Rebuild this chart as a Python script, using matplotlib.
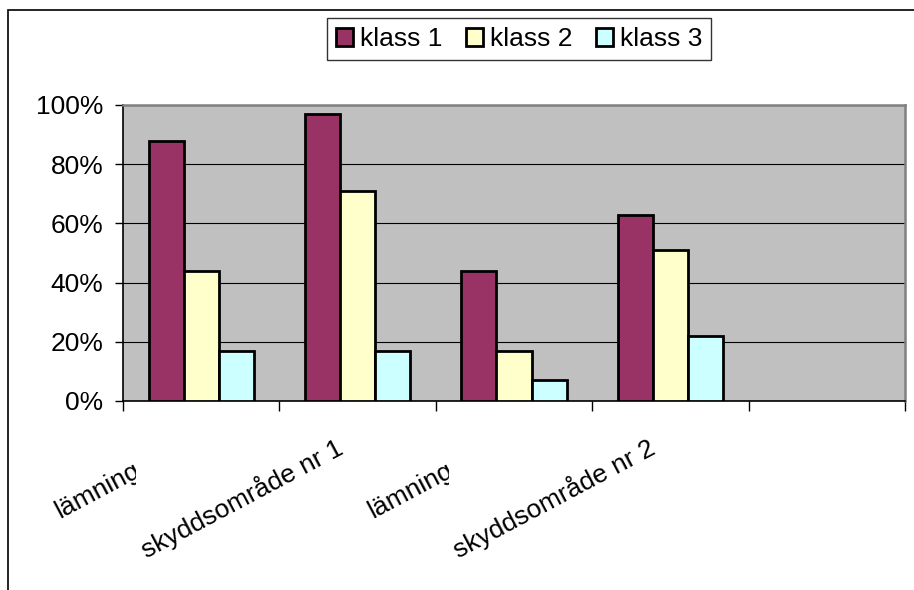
import matplotlib
matplotlib.use('Agg')
import matplotlib.pyplot as plt
from matplotlib.patches import Rectangle
from matplotlib.transforms import blended_transform_factory, ScaledTranslation

plt.rcParams['font.family'] = ['Liberation Sans', 'DejaVu Sans']

# data
categories = ['lämning', 'skyddsområde nr 1', 'lämning', 'skyddsområde nr 2', '']
label_clipped = [True, False, True, False, False]
klass1 = [88, 97, 44, 63]
klass2 = [44, 71, 17, 51]
klass3 = [17, 17, 7, 22]
series_names = ['klass 1', 'klass 2', 'klass 3']
colors = ['#993366', '#FFFFCC', '#CCFFFF']
y_ticks = [0, 20, 40, 60, 80, 100]
y_labels = ['0%', '20%', '40%', '60%', '80%', '100%']

FS = 19

fig = plt.figure(figsize=(9.14, 5.90), dpi=100)
ax = fig.add_axes([123 / 914, 189 / 590, 782 / 914, 296 / 590])
ax.set_facecolor('#C0C0C0')

w = 0.224
for k, (vals, name, c) in enumerate(zip([klass1, klass2, klass3], series_names, colors)):
    xs = [i + (k - 1) * w for i in range(len(vals))]
    ax.bar(xs, vals, width=w, color=c, edgecolor='black', linewidth=2,
           label=name, zorder=3)

ax.set_xlim(-0.5, len(categories) - 0.5)
ax.set_ylim(0, 100)
ax.set_yticks(y_ticks, y_labels)
ax.yaxis.grid(True, color='black', linewidth=0.8, zorder=1)
ax.set_xticks([i - 0.5 for i in range(len(categories) + 1)], [])
ax.tick_params(axis='y', length=6, width=1, pad=8, labelsize=FS)
ax.tick_params(axis='x', length=7, width=1)
for s in ['top', 'right']:
    ax.spines[s].set_color('#808080')
    ax.spines[s].set_linewidth(1.8)
for s in ['left', 'bottom']:
    ax.spines[s].set_color('black')
    ax.spines[s].set_linewidth(1.2)

# category labels, rotated like the Excel original (some cut off)
xt = blended_transform_factory(ax.transData, ax.transAxes)
for i, (lab, clipped) in enumerate(zip(categories, label_clipped)):
    if not lab:
        continue
    if clipped:
        off = ScaledTranslation(-141 / 100, -118 / 100, fig.dpi_scale_trans)
        t = ax.text(i, 0, lab, transform=xt + off, rotation=28, rotation_mode='anchor',
                    ha='left', va='baseline', fontsize=FS, clip_on=True)
        t.set_clip_path(Rectangle((-1, -1), i - 0.415 + 1, 1, transform=xt))
    else:
        off = ScaledTranslation(-13 / 100, -52 / 100, fig.dpi_scale_trans)
        ax.text(i, 0, lab, transform=xt + off, rotation=28, rotation_mode='anchor',
                ha='right', va='baseline', fontsize=FS)

leg = fig.legend(loc='center', bbox_to_anchor=(519 / 914, 1 - 39 / 590), ncol=3,
                 fontsize=FS, frameon=True, fancybox=False, edgecolor='black',
                 handlelength=0.65, handleheight=0.65, handletextpad=0.25,
                 columnspacing=0.9, borderpad=0.35, borderaxespad=0)
leg.get_frame().set_linewidth(1)

# chart area border (cut off at right and bottom)
fig.add_artist(Rectangle((8 / 914, -0.2), 1.5, 1 - 10 / 590 + 0.2,
                         transform=fig.transFigure, fill=False, ec='black', lw=1.2))

fig.savefig('out.png', dpi=100)
